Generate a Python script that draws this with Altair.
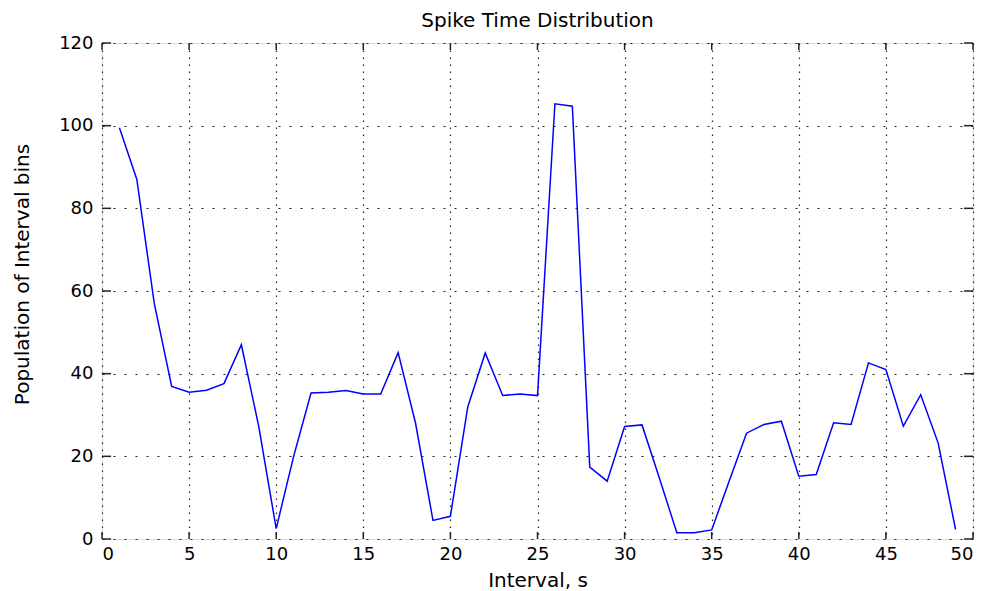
import altair as alt
import pandas as pd

# Data
intervals = list(range(1, 50))
population = [99.5, 87, 57, 36.9, 35.5, 36, 37.6, 47, 27.2, 2.5,
              20, 35.3, 35.5, 35.9, 35.1, 35.1, 45.1, 28, 4.5, 5.5,
              32, 45, 34.7, 35.1, 34.7, 105.3, 104.7, 17.4, 14, 27.2,
              27.6, 14.7, 1.5, 1.5, 2.2, 14, 25.6, 27.7, 28.5, 15.2,
              15.6, 28.1, 27.7, 42.6, 41, 27.3, 34.9, 23.2, 2.3]
x_ticks = [0, 5, 10, 15, 20, 25, 30, 35, 40, 45, 50]
y_ticks = [0, 20, 40, 60, 80, 100, 120]

W, H = 871, 496
FONT = "DejaVu Sans"

df = pd.DataFrame({"x": intervals, "y": population})
xt = pd.DataFrame({"t": x_ticks})
yt = pd.DataFrame({"t": y_ticks})

xscale = alt.Scale(domain=[0, 50], nice=False, zero=False)
yscale = alt.Scale(domain=[0, 120], nice=False)

line = alt.Chart(df).mark_line(color="#0000ff", strokeWidth=1.5).encode(
    x=alt.X("x:Q", scale=xscale,
            axis=alt.Axis(title="Interval, s", values=x_ticks, ticks=False,
                          domain=False, labelPadding=6, labelFontSize=18,
                          labelFont=FONT, labelColor="#000",
                          titleFont=FONT, titleFontSize=20, titleFontWeight="normal",
                          titleColor="#000", titleY=47, titleBaseline="alphabetic",
                          grid=True, gridColor="#222", gridDash=[1.5, 5.5],
                          gridWidth=1.2, gridOpacity=1)),
    y=alt.Y("y:Q", scale=yscale,
            axis=alt.Axis(title="Population of Interval bins", values=y_ticks,
                          ticks=False, domain=False, labelPadding=9,
                          labelFontSize=18, labelFont=FONT, labelColor="#000",
                          titleFont=FONT, titleFontSize=20, titleFontWeight="normal",
                          titleColor="#000", titleX=-74, titleY=231,
                          titleBaseline="alphabetic", titleAlign="center",
                          grid=True, gridColor="#222", gridDash=[2, 9],
                          gridWidth=1.2, gridOpacity=1)),
)

tick_bottom = alt.Chart(xt).mark_rule(color="#222", strokeWidth=1.5).encode(
    x=alt.X("t:Q", scale=xscale), y=alt.value(H), y2=alt.value(H - 7))
tick_top = alt.Chart(xt).mark_rule(color="#222", strokeWidth=1.5).encode(
    x=alt.X("t:Q", scale=xscale), y=alt.value(0), y2=alt.value(7))
tick_left = alt.Chart(yt).mark_rule(color="#222", strokeWidth=1.5).encode(
    y=alt.Y("t:Q", scale=yscale), x=alt.value(0), x2=alt.value(9))
tick_right = alt.Chart(yt).mark_rule(color="#222", strokeWidth=1.5).encode(
    y=alt.Y("t:Q", scale=yscale), x=alt.value(W), x2=alt.value(W - 9))

chart = alt.layer(line, tick_bottom, tick_top, tick_left, tick_right).properties(
    width=W, height=H,
    title=alt.TitleParams("Spike Time Distribution", font=FONT, fontSize=20,
                          fontWeight="normal", color="#000", anchor="middle",
                          offset=3),
    autosize=alt.AutoSizeParams(type="none"),
    padding={"left": 102, "top": 43, "right": 13, "bottom": 52},
).configure_view(stroke="#222", strokeWidth=1.5).configure(background="white")

chart.save("out.html", embed_options={"renderer": "svg", "actions": False})
